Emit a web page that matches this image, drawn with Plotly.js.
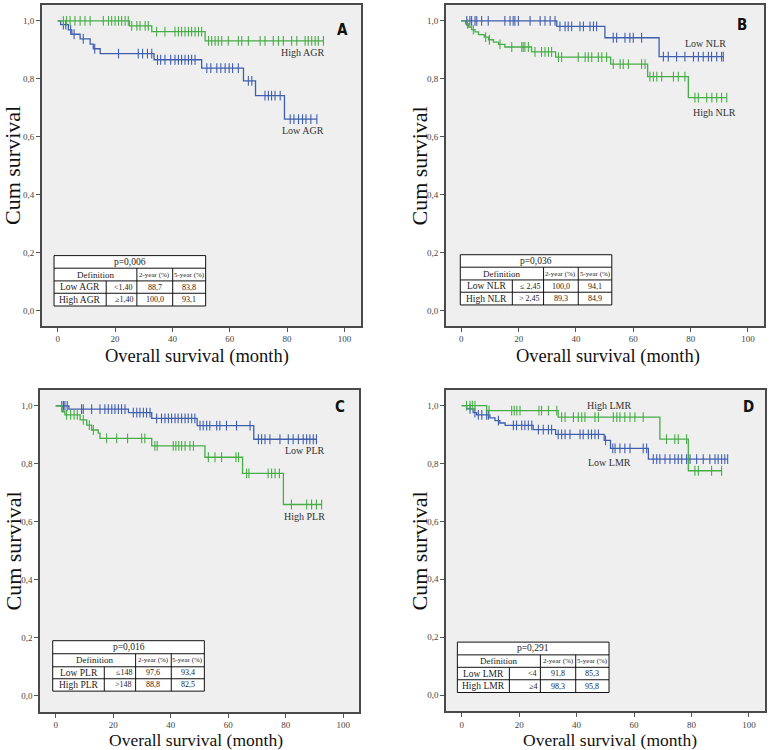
<!DOCTYPE html>
<html>
<head>
<meta charset="utf-8">
<script src="https://cdn.plot.ly/plotly-3.0.1.min.js"></script>
<style>html,body{margin:0;padding:0;background:#fff;}#chart{width:769px;height:750px;}</style>
</head>
<body>
<div id="chart"></div>
<script>
// ---------------- DATA ----------------
const xTickVals = [0, 20, 40, 60, 80, 100];
const yTickVals = [0, 0.2, 0.4, 0.6, 0.8, 1.0];
const yTickText = ['0,0', '0,2', '0,4', '0,6', '0,8', '1,0'];
const tableHeader = ['Definition', '2-year (%)', '5-year (%)'];

// Panel A (AGR)
const aLowTimes = [1.0, 3.7, 4.9, 7.8, 11.3, 12.4, 14.8, 33.6, 50.2, 64.8, 69.0, 79.1];
const aLowSurv  = [0.987, 0.969, 0.954, 0.938, 0.920, 0.904, 0.887, 0.866, 0.837, 0.793, 0.742, 0.661];
const aLowCens  = [1.96, 2.8, 4.5, 5.7, 8.9, 12.9, 21.2, 28.1, 29.6, 31.3, 32.8, 34.8, 35.9, 37.4, 39.4, 40.9, 42.1, 43.2, 44.4, 45.6, 46.7, 47.9, 52.0, 53.4, 55.5, 56.9, 58.4, 59.8, 61.0, 63.0, 66.5, 67.7, 72.3, 73.5, 74.6, 75.8, 77.6, 81.1, 82.4, 84.0, 85.4, 86.6, 88.3, 90.4];
const aHighTimes = [25.0, 32.8, 51.4];
const aHighSurv  = [0.983, 0.963, 0.931];
const aHighCens  = [1.96, 3.1, 4.3, 6.0, 7.8, 9.5, 11.3, 15.9, 17.7, 18.8, 20.0, 21.2, 22.3, 23.5, 24.6, 25.8, 27.6, 28.7, 30.5, 31.6, 34.5, 37.4, 40.9, 42.1, 43.2, 44.4, 45.6, 46.7, 47.9, 49.1, 50.2, 52.6, 53.7, 54.9, 56.0, 57.2, 59.5, 63.0, 64.2, 66.5, 70.6, 72.3, 75.2, 77.0, 78.7, 81.6, 83.4, 86.3, 87.4, 88.6, 89.8, 90.9, 92.7];
const aLabels = ['Low AGR', 'High AGR'];
const aPValue = 'p=0,006';
const aRows = [['Low AGR', '<1,40', '88,7', '83,8'], ['High AGR', '\u22651,40', '100,0', '93,1']];

// Panel B (NLR)
const bLowTimes = [33.3, 50.1, 69.0];
const bLowSurv  = [0.981, 0.942, 0.877];
const bLowCens  = [1.9, 3.0, 3.6, 4.8, 5.4, 7.1, 9.4, 15.2, 17.0, 18.1, 18.7, 19.9, 24.0, 27.5, 29.2, 31.0, 32.7, 34.4, 36.2, 37.3, 38.5, 41.4, 42.6, 44.9, 46.1, 47.2, 53.0, 54.2, 57.1, 58.8, 60.0, 62.9, 70.5, 72.2, 75.1, 78.0, 81.0, 82.7, 84.4, 86.2, 87.3, 89.1, 90.8, 91.4];
const bHighTimes = [1.5, 2.5, 3.6, 4.8, 6.0, 8.0, 9.5, 11.2, 13.0, 15.2, 24.5, 32.9, 52.1, 65.0, 79.2];
const bHighSurv  = [0.990, 0.979, 0.970, 0.962, 0.953, 0.944, 0.935, 0.927, 0.919, 0.910, 0.893, 0.875, 0.851, 0.808, 0.735];
const bHighCens  = [2.2, 4.2, 8.5, 9.8, 13.5, 17.6, 21.1, 21.6, 22.2, 23.4, 25.7, 28.0, 29.2, 30.4, 31.5, 33.9, 35.0, 40.8, 43.2, 44.3, 45.5, 47.8, 49.0, 50.7, 53.0, 55.4, 56.5, 58.3, 62.9, 64.1, 65.8, 67.0, 68.2, 69.9, 74.0, 75.7, 78.0, 81.5, 82.7, 85.6, 87.4, 89.1, 90.8, 92.6];
const bLabels = ['Low NLR', 'High NLR'];
const bPValue = 'p=0,036';
const bRows = [['Low NLR', '\u2264 2,45', '100,0', '94,1'], ['High NLR', '> 2,45', '89,3', '84,9']];

// Panel C (PLR)
const cLowTimes = [4.6, 25.3, 33.4, 49.2, 68.9];
const cLowSurv  = [0.989, 0.977, 0.957, 0.932, 0.885];
const cLowCens  = [2.1, 2.7, 3.2, 4.0, 9.0, 9.6, 12.5, 15.4, 17.1, 18.3, 19.5, 20.6, 21.8, 22.9, 24.1, 27.0, 28.2, 29.3, 30.5, 31.6, 32.8, 35.1, 36.8, 38.0, 39.2, 40.3, 41.5, 42.6, 43.8, 45.0, 46.1, 47.3, 48.4, 50.2, 51.3, 52.5, 53.6, 56.0, 57.1, 59.4, 62.9, 67.6, 70.5, 71.6, 72.8, 74.5, 78.0, 80.9, 82.6, 84.4, 86.1, 87.3, 88.4, 89.6, 90.7];
const cHighTimes = [2.2, 3.2, 8.5, 10.8, 12.5, 14.8, 15.4, 33.4, 51.9, 65.0, 79.2];
const cHighSurv  = [0.980, 0.969, 0.952, 0.934, 0.917, 0.906, 0.888, 0.862, 0.823, 0.767, 0.660];
const cHighCens  = [3.8, 5.2, 6.4, 7.5, 9.6, 11.7, 13.1, 17.7, 21.2, 25.0, 29.9, 31.0, 34.5, 35.3, 40.9, 41.8, 42.8, 43.8, 45.0, 46.7, 47.9, 53.1, 55.4, 57.7, 62.7, 63.6, 66.4, 67.2, 73.9, 75.1, 76.3, 77.8, 82.0, 87.3, 89.0, 90.7, 92.5];
const cLabels = ['Low PLR', 'High PLR'];
const cPValue = 'p=0,016';
const cRows = [['Low PLR', '\u2264148', '97,6', '93,4'], ['High PLR', '>148', '88,8', '82,5']];

// Panel D (LMR)
const dLowTimes = [1.7, 4.0, 5.2, 9.8, 11.6, 13.3, 15.1, 24.9, 32.7, 49.6, 51.8, 65.0];
const dLowSurv  = [0.989, 0.976, 0.968, 0.958, 0.948, 0.940, 0.932, 0.917, 0.901, 0.880, 0.852, 0.815];
const dLowCens  = [2.9, 4.6, 5.8, 7.0, 8.7, 9.3, 12.8, 18.0, 19.1, 20.9, 22.0, 23.2, 24.4, 26.7, 28.4, 30.2, 31.3, 33.6, 34.8, 36.0, 37.7, 41.2, 42.3, 44.1, 45.2, 46.4, 47.6, 50.1, 52.6, 53.4, 55.1, 56.8, 58.6, 63.2, 64.4, 66.7, 67.9, 69.0, 70.8, 72.5, 74.2, 75.4, 76.6, 78.3, 79.5, 81.8, 84.1, 86.4, 88.2, 89.3, 90.5, 91.6, 92.6];
const dHighTimes = [8.7, 33.6, 69.0, 78.9];
const dHighSurv  = [0.983, 0.960, 0.884, 0.775];
const dHighCens  = [1.7, 2.9, 3.7, 4.6, 9.5, 17.4, 18.3, 19.2, 20.3, 26.9, 27.8, 30.2, 33.1, 34.8, 36.0, 38.9, 40.6, 41.8, 42.9, 46.4, 47.6, 52.8, 54.0, 55.1, 56.8, 58.6, 60.3, 63.2, 71.3, 74.2, 75.4, 78.3, 81.2, 82.4, 87.0, 90.5];
const dLabels = ['Low LMR', 'High LMR'];
const dPValue = 'p=0,291';
const dRows = [['Low LMR', '<4', '91,8', '85,3'], ['High LMR', '\u22654', '98,3', '95,8']];

// ---------------- STYLE / LAYOUT ----------------
const BLUE = '#3f5fae';
const GREEN = '#47ad47';
const SERIF = 'Liberation Serif, Times New Roman, serif';
const LABELFONT = 'Liberation Sans Narrow, DejaVu Sans Condensed, Arial Narrow, sans-serif';

const panels = [
  {id: '', letter: 'A', low: [aLowTimes, aLowSurv, aLowCens], high: [aHighTimes, aHighSurv, aHighCens], labels: aLabels, p: aPValue, rows: aRows,
   dx: [41.7, 361], dy: [5, 326], xr: [-5.6, 105.8], yr: [-0.053, 1.055],
   letterPos: [99.2, 0.968], lowLabPos: [85.7, 0.622], highLabPos: [85.5, 0.890],
   cols: [-1.3, 16.9, 27.6, 40.1, 51.6], rws: [0.19, 0.1465, 0.1026, 0.060, 0.016],
   ytitle: [12.5, 165.5], xtitle: [197, 356.5], xtsize: 18.5},
  {id: '2', letter: 'B', low: [bLowTimes, bLowSurv, bLowCens], high: [bHighTimes, bHighSurv, bHighCens], labels: bLabels, p: bPValue, rows: bRows,
   dx: [445.7, 764.3], dy: [5, 326], xr: [-5.44, 105.7], yr: [-0.053, 1.055],
   letterPos: [97.8, 0.987], lowLabPos: [85.3, 0.922], highLabPos: [88.5, 0.683],
   cols: [-0.35, 17.8, 28.7, 40.8, 52.5], rws: [0.193, 0.15, 0.106, 0.0636, 0.0197],
   ytitle: [419, 165.5], xtitle: [608.3, 356.5], xtsize: 18.5},
  {id: '3', letter: 'C', low: [cLowTimes, cLowSurv, cLowCens], high: [cHighTimes, cHighSurv, cHighCens], labels: cLabels, p: cPValue, rows: cRows,
   dx: [40, 359.3], dy: [390, 712], xr: [-5.46, 105.6], yr: [-0.056, 1.055],
   letterPos: [98.9, 0.997], lowLabPos: [86.7, 0.846], highLabPos: [86.6, 0.619],
   cols: [-1.04, 16.9, 27.8, 40.2, 51.7], rws: [0.19, 0.145, 0.1, 0.0587, 0.016],
   ytitle: [12.5, 551], xtitle: [196.3, 740], xtsize: 17.5},
  {id: '4', letter: 'D', low: [dLowTimes, dLowSurv, dLowCens], high: [dHighTimes, dHighSurv, dHighCens], labels: dLabels, p: dPValue, rows: dRows,
   dx: [446, 765], dy: [390, 711.3], xr: [-5.46, 105.6], yr: [-0.056, 1.054],
   letterPos: [99.7, 0.994], lowLabPos: [51.6, 0.804], highLabPos: [51.6, 1.0007],
   cols: [-1.5, 16.6, 27.4, 39.7, 51.3], rws: [0.183, 0.139, 0.096, 0.053, 0.009],
   ytitle: [419, 550.5], xtitle: [609.5, 740], xtsize: 17.5}
];

const W = 769, H = 750;

function stepLine(times, surv, cens) {
  const end = Math.max(times[times.length - 1], cens[cens.length - 1]);
  const x = [0], y = [1];
  for (let i = 0; i < times.length; i++) { x.push(times[i]); y.push(surv[i]); }
  x.push(end); y.push(surv[surv.length - 1]);
  return {x, y};
}
function survAt(times, surv, t) {
  let s = 1;
  for (let i = 0; i < times.length; i++) if (times[i] <= t) s = surv[i];
  return s;
}

const traces = [];
const layout = {
  width: W, height: H,
  margin: {l: 0, r: 0, t: 0, b: 0},
  paper_bgcolor: '#ffffff',
  plot_bgcolor: '#efefef',
  showlegend: false,
  shapes: [],
  annotations: []
};

panels.forEach(p => {
  const xa = 'x' + p.id, ya = 'y' + p.id;
  [[p.low, BLUE], [p.high, GREEN]].forEach(([d, col]) => {
    const sl = stepLine(d[0], d[1], d[2]);
    traces.push({x: sl.x, y: sl.y, xaxis: xa, yaxis: ya, mode: 'lines', type: 'scatter',
      line: {shape: 'hv', color: col, width: 1.3}, hoverinfo: 'skip'});
    traces.push({x: d[2], y: d[2].map(t => survAt(d[0], d[1], t)), xaxis: xa, yaxis: ya,
      mode: 'markers', type: 'scatter',
      marker: {symbol: 'line-ns-open', size: 7, color: col, line: {color: col, width: 1.1}}, hoverinfo: 'skip'});
  });

  const axCommon = {
    showgrid: false, zeroline: false, showline: true, mirror: true,
    linecolor: '#4a4a4a', linewidth: 1.6, ticks: 'outside', ticklen: 4, tickwidth: 1,
    tickcolor: '#555', tickfont: {family: SERIF, size: 9, color: '#444'}
  };
  layout['xaxis' + p.id] = Object.assign({}, axCommon, {
    domain: [p.dx[0] / W, p.dx[1] / W], range: p.xr, tickvals: xTickVals,
    anchor: ya, fixedrange: true
  });
  layout['yaxis' + p.id] = Object.assign({}, axCommon, {
    domain: [1 - p.dy[1] / H, 1 - p.dy[0] / H], range: p.yr, tickvals: yTickVals, ticktext: yTickText,
    anchor: xa, fixedrange: true
  });

  // panel letter
  layout.annotations.push({xref: xa, yref: ya, x: p.letterPos[0], y: p.letterPos[1], text: '<b>' + p.letter + '</b>',
    showarrow: false, font: {family: LABELFONT, size: 15, color: '#111'}});
  // curve labels
  layout.annotations.push({xref: xa, yref: ya, x: p.lowLabPos[0], y: p.lowLabPos[1], text: p.labels[0],
    showarrow: false, font: {family: SERIF, size: 10, color: '#333'}});
  layout.annotations.push({xref: xa, yref: ya, x: p.highLabPos[0], y: p.highLabPos[1], text: p.labels[1],
    showarrow: false, font: {family: SERIF, size: 10, color: '#333'}});
  // axis titles
  layout.annotations.push({xref: 'paper', yref: 'paper', x: p.ytitle[0] / W, y: 1 - p.ytitle[1] / H,
    text: 'Cum survival', textangle: -90, showarrow: false, xanchor: 'center', yanchor: 'middle',
    font: {family: SERIF, size: 22, color: '#111'}});
  layout.annotations.push({xref: 'paper', yref: 'paper', x: p.xtitle[0] / W, y: 1 - p.xtitle[1] / H,
    text: 'Overall survival (month)', showarrow: false, xanchor: 'center', yanchor: 'middle', borderpad: 0,
    font: {family: SERIF, size: p.xtsize, color: '#111'}});

  // table
  const c = p.cols, r = p.rws;
  const ln = {color: '#111', width: 1};
  layout.shapes.push({type: 'rect', xref: xa, yref: ya, x0: c[0], x1: c[4], y0: r[4], y1: r[0], fillcolor: '#ffffff', line: ln});
  [1, 2, 3].forEach(i => layout.shapes.push({type: 'line', xref: xa, yref: ya, x0: c[0], x1: c[4], y0: r[i], y1: r[i], line: ln}));
  layout.shapes.push({type: 'line', xref: xa, yref: ya, x0: c[2], x1: c[2], y0: r[1], y1: r[4], line: ln});
  layout.shapes.push({type: 'line', xref: xa, yref: ya, x0: c[3], x1: c[3], y0: r[1], y1: r[4], line: ln});
  layout.shapes.push({type: 'line', xref: xa, yref: ya, x0: c[1], x1: c[1], y0: r[2], y1: r[4], line: ln});

  const tf = (s) => ({family: SERIF, size: s, color: '#222'});
  const mid = (a, b) => (a + b) / 2;
  layout.annotations.push({xref: xa, yref: ya, x: mid(c[0], c[4]), y: mid(r[0], r[1]), text: p.p, showarrow: false, font: tf(9.5)});
  layout.annotations.push({xref: xa, yref: ya, x: mid(c[0], c[2]), y: mid(r[1], r[2]), text: tableHeader[0], showarrow: false, font: tf(9)});
  layout.annotations.push({xref: xa, yref: ya, x: mid(c[2], c[3]), y: mid(r[1], r[2]), text: tableHeader[1], showarrow: false, font: tf(7)});
  layout.annotations.push({xref: xa, yref: ya, x: mid(c[3], c[4]), y: mid(r[1], r[2]), text: tableHeader[2], showarrow: false, font: tf(7)});
  p.rows.forEach((row, k) => {
    const yc = mid(r[2 + k], r[3 + k]);
    layout.annotations.push({xref: xa, yref: ya, x: mid(c[0], c[1]), y: yc, text: row[0], showarrow: false, font: tf(9.5)});
    layout.annotations.push({xref: xa, yref: ya, x: c[2] - 0.6, y: yc, text: row[1], xanchor: 'right', showarrow: false, font: tf(8)});
    layout.annotations.push({xref: xa, yref: ya, x: mid(c[2], c[3]), y: yc, text: row[2], showarrow: false, font: tf(8)});
    layout.annotations.push({xref: xa, yref: ya, x: mid(c[3], c[4]), y: yc, text: row[3], showarrow: false, font: tf(8)});
  });
});

Plotly.newPlot('chart', traces, layout, {staticPlot: true, displayModeBar: false});
</script>
</body>
</html>
